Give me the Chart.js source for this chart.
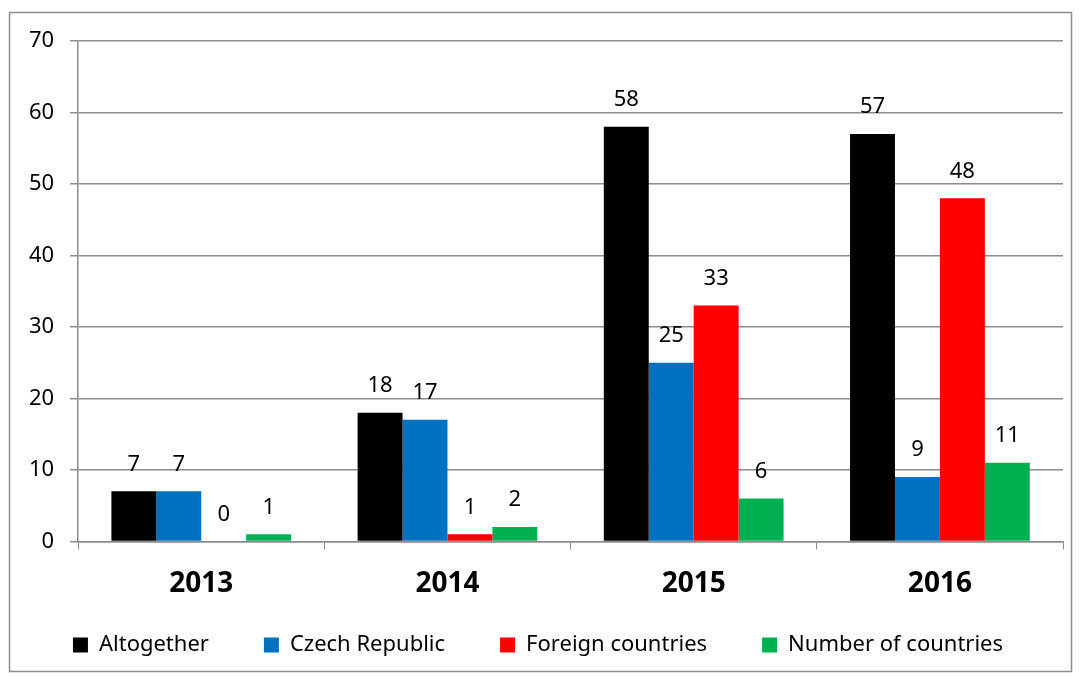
<!DOCTYPE html>
<html>
<head>
<meta charset="utf-8">
<script src="https://cdn.jsdelivr.net/npm/chart.js@4.4.1/dist/chart.umd.min.js"></script>
<style>
  html, body { margin: 0; padding: 0; background: #fff; }
  #wrap { position: relative; width: 1079px; height: 677px; }
</style>
</head>
<body>
<div id="wrap"><canvas id="chart"></canvas></div>
<script>
const years = ['2013', '2014', '2015', '2016'];
const altogether = [7, 18, 58, 57];
const czechRepublic = [7, 17, 25, 9];
const foreignCountries = [0, 1, 33, 48];
const numberOfCountries = [1, 2, 6, 11];
const yTicks = [0, 10, 20, 30, 40, 50, 60, 70];

const FONT = "'Noto Sans', 'Liberation Sans', sans-serif";
const LEGEND_TRIM = 40; // legend padding is also applied above the row, trim it

// Outer frame around the whole chart
const frame = {
  id: 'frame',
  beforeDraw: (chart) => {
    const { ctx } = chart;
    ctx.save();
    ctx.fillStyle = '#fff';
    ctx.fillRect(0, 0, chart.width, chart.height);
    ctx.strokeStyle = '#8c8c8c';
    ctx.lineWidth = 1.5;
    ctx.strokeRect(9.5, 12.5, 1062, 659);
    ctx.restore();
  }
};

// Pull the legend row closer to the axis labels
const legendGap = {
  id: 'legendGap',
  afterInit: (chart) => {
    const legend = chart.legend;
    if (!legend) return;
    const fit0 = legend.fit.bind(legend);
    legend.fit = function () { fit0(); this.height -= LEGEND_TRIM; };
    const draw0 = legend.draw.bind(legend);
    legend.draw = function () {
      const top = this.top;
      this.top = top - LEGEND_TRIM;
      draw0();
      this.top = top;
    };
  }
};

// Value labels above every bar
const valueLabels = {
  id: 'valueLabels',
  afterDatasetsDraw: (chart) => {
    const { ctx } = chart;
    ctx.save();
    ctx.font = '22px ' + FONT;
    ctx.fillStyle = '#000';
    ctx.textAlign = 'center';
    ctx.textBaseline = 'middle';
    chart.data.datasets.forEach((ds, i) => {
      chart.getDatasetMeta(i).data.forEach((bar, j) => {
        ctx.fillText(String(ds.data[j]), bar.x, bar.y - 27);
      });
    });
    ctx.restore();
  }
};

const ctx = document.getElementById('chart').getContext('2d');
new Chart(ctx, {
  type: 'bar',
  data: {
    labels: years,
    datasets: [
      { label: 'Altogether', data: altogether, backgroundColor: '#000000' },
      { label: 'Czech Republic', data: czechRepublic, backgroundColor: '#0070C0' },
      { label: 'Foreign countries', data: foreignCountries, backgroundColor: '#FF0000' },
      { label: 'Number of countries', data: numberOfCountries, backgroundColor: '#00B050' }
    ]
  },
  options: {
    responsive: true,
    maintainAspectRatio: false,
    animation: false,
    layout: { padding: { top: 41, right: 16, bottom: 11, left: 13 } },
    datasets: { bar: { categoryPercentage: 0.73, barPercentage: 1.0 } },
    plugins: {
      legend: {
        position: 'bottom',
        labels: {
          boxWidth: 15,
          boxHeight: 15,
          padding: 55,
          color: '#000',
          font: { family: FONT, size: 22 }
        }
      },
      title: { display: false },
      tooltip: { enabled: false }
    },
    scales: {
      x: {
        grid: { offset: true, drawOnChartArea: false, drawTicks: true, tickLength: 8, color: '#8c8c8c' },
        border: { display: true, color: '#8c8c8c', width: 1.5 },
        ticks: { color: '#000', padding: 18, font: { family: FONT, size: 28, weight: 'bold' } }
      },
      y: {
        min: 0,
        max: 70,
        afterBuildTicks: (axis) => { axis.ticks = yTicks.map(v => ({ value: v })); },
        grid: { color: '#8c8c8c', lineWidth: 1.5, tickLength: 8 },
        border: { display: true, color: '#8c8c8c', width: 1.5 },
        ticks: { color: '#000', padding: 16, font: { family: FONT, size: 22 } }
      }
    }
  },
  plugins: [frame, legendGap, valueLabels]
});
</script>
</body>
</html>
